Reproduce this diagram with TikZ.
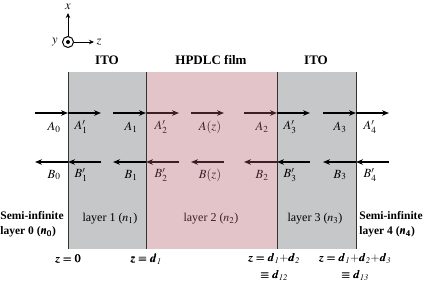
\documentclass[tikz,border=0pt]{standalone}
\usepackage{mathptmx}
\usepackage{bm}
\usepackage{fontspec}
\setmainfont{Liberation Serif}
\usetikzlibrary{arrows.meta}
\definecolor{itogray}{HTML}{C6C7C9}
\definecolor{lcpink}{HTML}{E3C4C9}
\definecolor{lcdark}{HTML}{3E1E26}
\tikzset{
  wave/.style={line width=1.2pt,-{Stealth[length=7pt,width=5.5pt]}},
  lbl/.style={inner sep=0pt,font=\fontsize{12.5}{14}\selectfont},
  lay/.style={inner sep=0pt,font=\fontsize{12}{14}\selectfont},
  head/.style={inner sep=0pt,font=\fontsize{13}{15}\selectfont\bfseries},
  bold/.style={inner sep=0pt,font=\fontsize{11.5}{15}\selectfont\bfseries},
  bnd/.style={line width=0.7pt,draw=black!80}
}
\begin{document}
\begin{tikzpicture}[x=1pt,y=-1pt]
\useasboundingbox (0,0) rectangle (425,282);
% layers
\fill[itogray] (68,72) rectangle (146,249);
\fill[lcpink] (146,72) rectangle (277,249);
\fill[itogray] (277,72) rectangle (356,249);
\foreach \xx in {68,146,277,356} \draw[bnd] (\xx,72) -- (\xx,249);
% axes
\node[draw,circle,line width=1pt,minimum size=11pt,inner sep=0pt] (o) at (68,42) {};
\fill (o.center) circle (2pt);
\coordinate (xe) at (68,13);
\coordinate (ze) at (94,42);
\draw[line width=1pt,-{Stealth[length=5pt,width=4.5pt]}] (o.north) -- (xe);
\draw[line width=1pt,-{Stealth[length=5pt,width=4.5pt]}] (o.east) -- (ze);
\node[lbl] (xl) at (68,7) {$x$};
\node[lbl] (zl) at (99,42) {$z$};
\node[lbl] (yl) at (55,42) {$y$};
% top labels
\node[head] (ito1) at (107,60) {ITO};
\node[head] (film) at (211,60) {HPDLC film};
\node[head] (ito2) at (316,60) {ITO};
% forward arrows
\coordinate (a0s) at (35,113); \coordinate (a0e) at (68,113);
\coordinate (a1s) at (68,113); \coordinate (a1e) at (101,113);
\coordinate (a2s) at (113,113); \coordinate (a2e) at (146,113);
\coordinate (a3s) at (146,113); \coordinate (a3e) at (179,113);
\coordinate (a4s) at (191,113); \coordinate (a4e) at (224,113);
\coordinate (a5s) at (244,113); \coordinate (a5e) at (277,113);
\coordinate (a6s) at (277,113); \coordinate (a6e) at (310,113);
\coordinate (a7s) at (323,113); \coordinate (a7e) at (356,113);
\coordinate (a8s) at (356,113); \coordinate (a8e) at (389,113);
\draw[wave] (a0s) -- (a0e);
\draw[wave] (a1s) -- (a1e);
\draw[wave] (a2s) -- (a2e);
\draw[wave,lcdark] (a3s) -- (a3e);
\draw[wave,lcdark] (a4s) -- (a4e);
\draw[wave,lcdark] (a5s) -- (a5e);
\draw[wave] (a6s) -- (a6e);
\draw[wave] (a7s) -- (a7e);
\draw[wave] (a8s) -- (a8e);
% backward arrows
\coordinate (b0s) at (68,162); \coordinate (b0e) at (35,162);
\coordinate (b1s) at (101,162); \coordinate (b1e) at (68,162);
\coordinate (b2s) at (146,162); \coordinate (b2e) at (113,162);
\coordinate (b3s) at (179,162); \coordinate (b3e) at (146,162);
\coordinate (b4s) at (224,162); \coordinate (b4e) at (191,162);
\coordinate (b5s) at (277,162); \coordinate (b5e) at (244,162);
\coordinate (b6s) at (310,162); \coordinate (b6e) at (277,162);
\coordinate (b7s) at (356,162); \coordinate (b7e) at (323,162);
\coordinate (b8s) at (389,162); \coordinate (b8e) at (356,162);
\draw[wave] (b0s) -- (b0e);
\draw[wave] (b1s) -- (b1e);
\draw[wave] (b2s) -- (b2e);
\draw[wave,lcdark] (b3s) -- (b3e);
\draw[wave,lcdark] (b4s) -- (b4e);
\draw[wave,lcdark] (b5s) -- (b5e);
\draw[wave] (b6s) -- (b6e);
\draw[wave] (b7s) -- (b7e);
\draw[wave] (b8s) -- (b8e);
% A labels
\node[lbl] (la0) at (54,127) {$A_0$};
\node[lbl] (la1p) at (81,127) {$A_1'$};
\node[lbl] (la1) at (131,127) {$A_1$};
\node[lbl,text=lcdark] (la2p) at (161,127) {$A_2'$};
\node[lbl,text=lcdark] (laz) at (210,127) {$A(z)$};
\node[lbl,text=lcdark] (la2) at (262,127) {$A_2$};
\node[lbl] (la3p) at (290,127) {$A_3'$};
\node[lbl] (la3) at (340,127) {$A_3$};
\node[lbl] (la4p) at (370,127) {$A_4'$};
% B labels
\node[lbl] (lb0) at (54,175) {$B_0$};
\node[lbl] (lb1p) at (81,175) {$B_1'$};
\node[lbl] (lb1) at (131,175) {$B_1$};
\node[lbl,text=lcdark] (lb2p) at (161,175) {$B_2'$};
\node[lbl,text=lcdark] (lbz) at (210,175) {$B(z)$};
\node[lbl,text=lcdark] (lb2) at (262,175) {$B_2$};
\node[lbl] (lb3p) at (290,175) {$B_3'$};
\node[lbl] (lb3) at (340,175) {$B_3$};
\node[lbl] (lb4p) at (370,175) {$B_4'$};
% layer labels
\node[bold,align=left] (l0) at (32,224) {Semi-infinite\\layer 0 ($\bm{n_0}$)};
\node[lay] (l1) at (110,219) {layer 1 ($n_1$)};
\node[lay,text=lcdark] (l2) at (211,219) {layer 2 ($n_2$)};
\node[lay] (l3) at (315,219) {layer 3 ($n_3$)};
\node[bold,align=left] (l4) at (391,224) {Semi-infinite\\layer 4 ($\bm{n_4}$)};
% positions
\node[bold] (p0) at (68,259) {$\bm{z=0}$};
\node[bold] (p1) at (146,259) {$\bm{z=d_{\mathit{1}}}$};
\node[bold,align=center] (p2) at (274,267) {$\bm{z=d_{\mathit{1}}{+}d_{\mathit{2}}}$\\[2pt]$\bm{\equiv d_{\mathit{12}}}$};
\node[bold,align=center] (p3) at (355,267) {$\bm{z=d_{\mathit{1}}{+}d_{\mathit{2}}{+}d_{\mathit{3}}}$\\[2pt]$\bm{\equiv d_{\mathit{13}}}$};
\end{tikzpicture}
\end{document}
